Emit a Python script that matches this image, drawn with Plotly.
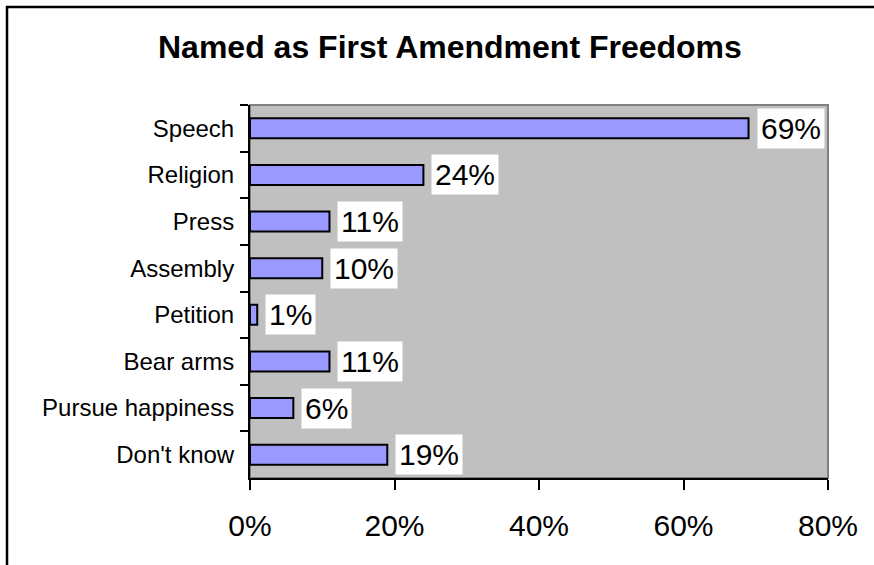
import plotly.graph_objects as go

categories = ["Speech", "Religion", "Press", "Assembly", "Petition", "Bear arms", "Pursue happiness", "Don't know"]
values = [69, 24, 11, 10, 1, 11, 6, 19]
x_tickvals = [0, 20, 40, 60, 80]
x_ticktext = ["0%", "20%", "40%", "60%", "80%"]
title_text = "Named as First Amendment Freedoms"

FONT = "Liberation Sans, Arial, sans-serif"

fig = go.Figure()
fig.add_trace(go.Bar(
    x=values,
    y=categories,
    orientation="h",
    marker=dict(color="#9999FF", line=dict(color="black", width=2)),
    hoverinfo="skip",
))

annotations = []
for c, v in zip(categories, values):
    annotations.append(dict(
        x=v, y=c, xref="x", yref="y",
        text=f"{v}%", showarrow=False,
        xanchor="left", yanchor="middle", xshift=8,
        bgcolor="white", borderpad=3,
        font=dict(family=FONT, size=30, color="black"),
    ))
annotations.append(dict(
    x=0.346, y=1.1555, xref="paper", yref="paper",
    text=f"<b>{title_text}</b>", showarrow=False,
    xanchor="center", yanchor="middle",
    font=dict(family=FONT, size=32, color="black"),
))

shapes = [
    # plot area border (gray)
    dict(type="rect", xref="paper", yref="paper", x0=0, x1=1, y0=0, y1=1,
         line=dict(color="#808080", width=2), fillcolor="rgba(0,0,0,0)", layer="below"),
    # outer chart frame (clipped right/bottom)
    dict(type="rect", xref="paper", yref="paper", x0=-0.4204, x1=1.1, y0=-0.3, y1=1.2627,
         line=dict(color="black", width=2.5), fillcolor="rgba(0,0,0,0)", layer="below"),
]

fig.update_layout(
    width=874, height=565,
    margin=dict(l=250, r=46, t=105, b=87, autoexpand=False),
    paper_bgcolor="white",
    plot_bgcolor="#C0C0C0",
    bargap=0.57,
    showlegend=False,
    annotations=annotations,
    shapes=shapes,
    font=dict(family=FONT, color="black"),
)
fig.update_xaxes(
    range=[0, 80], tickvals=x_tickvals, ticktext=x_ticktext,
    showgrid=False, zeroline=False,
    showline=True, linecolor="black", linewidth=2,
    ticks="outside", ticklen=10, tickwidth=2, tickcolor="black",
    tickfont=dict(family=FONT, size=30, color="black"),
    ticklabelstandoff=10,
)
fig.update_yaxes(
    categoryorder="array", categoryarray=categories, autorange="reversed",
    tickson="boundaries", showgrid=False, zeroline=False,
    showline=True, linecolor="black", linewidth=2,
    ticks="outside", ticklen=8, tickwidth=2, tickcolor="black",
    tickfont=dict(family=FONT, size=24, color="black"),
    ticklabelstandoff=9,
)

fig.write_html(
    "out.html",
    config={"displayModeBar": False, "staticPlot": True},
    post_script="document.body.style.margin='0';document.body.style.overflow='hidden';",
)
